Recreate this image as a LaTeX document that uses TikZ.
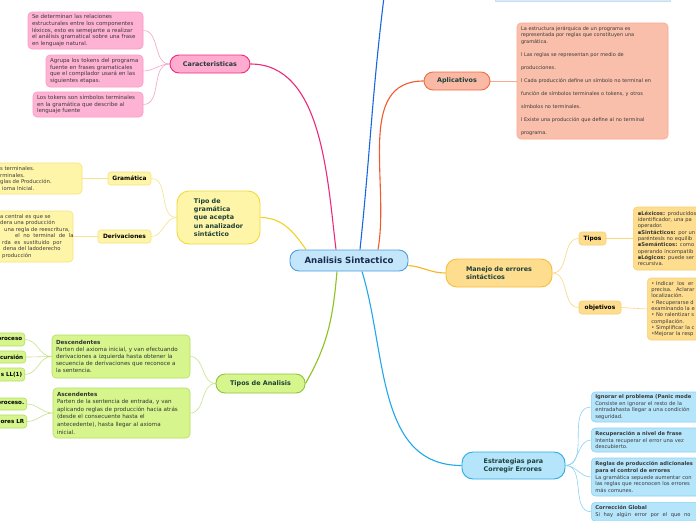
\documentclass[tikz,border=0pt]{standalone}
\usepackage{fontspec}
\setmainfont{DejaVu Sans}
\definecolor{cfill}{HTML}{C3E6FA}
\definecolor{cdraw}{HTML}{4D9FE0}
\definecolor{ctext}{HTML}{1A2A4A}
\definecolor{ttext}{HTML}{1C3F3A}
\definecolor{ntext}{HTML}{3A3A3A}
\definecolor{pkfill}{HTML}{FFACD0}
\definecolor{pkdraw}{HTML}{EE2A7B}
\definecolor{pknfill}{HTML}{FFB3D4}
\definecolor{pkndraw}{HTML}{F79AC4}
\definecolor{pkline}{HTML}{EC2A7B}
\definecolor{pksub}{HTML}{F6A3C8}
\definecolor{yfill}{HTML}{FFF5A8}
\definecolor{ydraw}{HTML}{F3D93A}
\definecolor{yndraw}{HTML}{F6E27E}
\definecolor{yline}{HTML}{F2D41F}
\definecolor{ysub}{HTML}{F7E38A}
\definecolor{gfill}{HTML}{D6F58C}
\definecolor{gdraw}{HTML}{8CC63F}
\definecolor{gndraw}{HTML}{B5DF62}
\definecolor{gline}{HTML}{8DC21F}
\definecolor{gsub}{HTML}{C5E48A}
\definecolor{sfill}{HTML}{F9B9A5}
\definecolor{sdraw}{HTML}{F36B41}
\definecolor{snfill}{HTML}{F9BFAA}
\definecolor{sndraw}{HTML}{F9A98F}
\definecolor{sline}{HTML}{F15A2B}
\definecolor{ofill}{HTML}{FEDD8E}
\definecolor{odraw}{HTML}{F8BD3C}
\definecolor{ondraw}{HTML}{F9D070}
\definecolor{oline}{HTML}{F8B61C}
\definecolor{osub}{HTML}{FBD680}
\definecolor{bfill}{HTML}{B5E5FB}
\definecolor{bdraw}{HTML}{2AABE4}
\definecolor{bndraw}{HTML}{8DD3F3}
\definecolor{bline}{HTML}{20A8E8}
\definecolor{bsub}{HTML}{8DD3F3}
\definecolor{upline}{HTML}{1A66E0}
\definecolor{stripfill}{HTML}{DDE9F9}
\definecolor{stripdraw}{HTML}{C9DCF5}
\pgfdeclarelayer{bg}
\pgfsetlayers{bg,main}
\begin{document}
\begin{tikzpicture}[x=1pt,y=-1pt,
  topicbox/.style={draw, line width=0.9pt, rounded corners=9pt, inner sep=0pt,
    font=\fontsize{6.4}{8.4}\selectfont\bfseries, text=ttext, align=left},
  subbox/.style={draw, line width=0.6pt, rounded corners=3pt, inner ysep=0pt, inner xsep=3pt,
    font=\fontsize{5.9}{7}\selectfont\bfseries, text=black},
  edgebox/.style={subbox, font=\fontsize{5.6}{7}\selectfont\bfseries, inner xsep=2.5pt},
  notebox/.style={draw, line width=0.6pt, rounded corners=4pt, inner xsep=4pt, inner ysep=0pt,
    align=left, text=ntext, font=\fontsize{5.5}{6.7}\selectfont},
  notetext/.style={inner sep=0pt, align=left, anchor=west, text=ntext,
    font=\fontsize{5.3}{6.5}\selectfont},
  mainlink/.style={line width=1.1pt},
  sublink/.style={line width=0.6pt}
]
\useasboundingbox (0,0) rectangle (696,520);

% ---------- center ----------
\node[topicbox, fill=cfill, draw=cdraw, minimum width=118pt, minimum height=21pt,
  font=\fontsize{8.6}{10}\selectfont\bfseries, text=ctext] (c) at (349,260.5) {Analisis Sintactico};

% ---------- top strip (partial node) ----------
\node[draw=stripdraw, fill=stripfill, minimum width=175pt, minimum height=12pt, inner sep=0pt,
  anchor=south west] (topbox) at (495,1.5) {};
\coordinate (topup) at (384,-3);

% ---------- Caracteristicas ----------
\node[topicbox, fill=pkfill, draw=pkdraw, minimum width=80pt, minimum height=18pt] (car) at (210,64) {Caracteristicas};
\node[notebox, fill=pknfill, draw=pkndraw, text width=107pt, minimum height=37pt] (pn1) at (85.5,30.5)
  {Se determinan las relaciones\\estructurales entre los componentes\\léxicos, esto es semejante a realizar\\el análisis gramatical sobre una frase\\en lenguaje natural.};
\node[notebox, fill=pknfill, draw=pkndraw, text width=89pt, minimum height=32pt] (pn2) at (94.5,71)
  {Agrupa los tokens del programa\\fuente en frases gramaticales\\que el compilador usará en las\\siguientes etapas.};
\node[notebox, fill=pknfill, draw=pkndraw, text width=102pt, minimum height=25pt] (pn3) at (88,104.5)
  {Los tokens son símbolos terminales\\en la gramática que describe al\\lenguaje fuente};

% ---------- Tipo de gramatica ----------
\node[topicbox, fill=yfill, draw=ydraw, minimum width=83pt, minimum height=53pt, rounded corners=12pt] (tg) at (218.5,217.5)
  {Tipo de\\gramática\\que acepta\\un analizador\\sintáctico};
\node[subbox, fill=yfill, draw=yndraw, minimum width=43pt, minimum height=13pt] (gram) at (129.5,178.5) {Gramática};
\node[subbox, fill=yfill, draw=yndraw, minimum width=53pt, minimum height=13pt] (deriv) at (124.5,236.5) {Derivaciones};
\node[notebox, fill=yfill, draw=yndraw, minimum width=102pt, minimum height=31pt] (yn1) at (31,178.5) {};
\node[notetext] (yn1t) at (0,178.5) {s terminales.\\rminales.\\glas de Producción.\\\hspace*{2pt}ioma Inicial.};
\node[notebox, fill=yfill, draw=yndraw, minimum width=93pt, minimum height=51pt] (yn2) at (26.5,236.5) {};
\node[notetext] (yn2t) at (0,236.5) {a central es que se\\dera una producción\\\hspace*{4pt}una regla de reescritura,\\\hspace*{15pt}el \ no \ terminal \ de \ la\\\hspace*{2pt}rda \ es \ sustituido \ por\\\hspace*{3pt}dena del ladoderecho\\\hspace*{2pt}producción};

% ---------- Tipos de Analisis ----------
\node[topicbox, fill=gfill, draw=gdraw, minimum width=89pt, minimum height=19pt] (ta) at (260.5,383.5) {Tipos de Analisis};
\node[notebox, fill=gfill, draw=gndraw, text width=130pt, minimum height=43pt, text=black!80,
  font=\fontsize{5.6}{7.1}\selectfont] (desc) at (121,356.5)
  {\textbf{Descendentes}\\Parten del axioma inicial, y van efectuando\\derivaciones a izquierda hasta obtener la\\secuencia de derivaciones que reconoce a\\la sentencia.};
\node[notebox, fill=gfill, draw=gndraw, text width=129pt, minimum height=50pt, text=black!80,
  font=\fontsize{5.6}{7.6}\selectfont] (asc) at (121.5,413)
  {\textbf{Ascendentes}\\Parten de la sentencia de entrada, y van\\aplicando reglas de producción hacia atrás\\(desde el consecuente hasta el\\antecedente), hasta llegar al axioma\\inicial.};
\node[edgebox, fill=gfill, draw=gndraw, anchor=east, minimum height=13pt] (g1) at (25,339.5) {\hspace*{10pt}proceso};
\node[edgebox, fill=gfill, draw=gndraw, anchor=east, minimum height=12pt] (g2) at (26,357) {\hspace*{10pt}cursión};
\node[edgebox, fill=gfill, draw=gndraw, anchor=east, minimum height=13pt] (g3) at (25,374.5) {\hspace*{10pt}s LL(1)};
\node[edgebox, fill=gfill, draw=gndraw, anchor=east, minimum height=12pt] (g4) at (27,404) {\hspace*{10pt}proceso.};
\node[edgebox, fill=gfill, draw=gndraw, anchor=east, minimum height=13pt] (g5) at (27,421.5) {\hspace*{10pt}ores LR};

% ---------- Aplicativos ----------
\node[topicbox, fill=sfill, draw=sdraw, minimum width=66pt, minimum height=18pt] (apl) at (457,81) {Aplicativos};
\node[notebox, fill=snfill, draw=sndraw, text width=143pt, minimum height=116pt,
  font=\fontsize{5}{6.6}\selectfont] (sal) at (592.5,81)
  {La estructura jerárquica de un programa es\\representada por reglas que constituyen una\\gramática.\\[7pt]l Las reglas se representan por medio de\\[6.4pt]producciones.\\[6.4pt]l Cada producción define un símbolo no terminal en\\[6.4pt]función de símbolos terminales o tokens, y otros\\[6.4pt]símbolos no terminales.\\[6.4pt]l Existe una producción que define al no terminal\\[6.4pt]programa.};

% ---------- Manejo de errores ----------
\node[topicbox, fill=ofill, draw=odraw, minimum width=106pt, minimum height=28pt, rounded corners=11pt] (man) at (499,273)
  {Manejo de errores\\sintácticos};
\node[subbox, fill=ofill, draw=ondraw, minimum width=27pt, minimum height=13pt] (tipos) at (592.5,238.5) {Tipos};
\node[subbox, fill=ofill, draw=ondraw, minimum width=42pt, minimum height=13pt] (obj) at (600,307.5) {objetivos};
\node[notebox, fill=ofill, draw=ondraw, anchor=west, text width=110pt, minimum height=63pt, inner xsep=4.5pt,
  font=\fontsize{5.2}{6.3}\selectfont] (tn) at (633,238.5)
  {\textbf{▪Léxicos:} producidos\\identificador, una pa\\operador.\\\textbf{▪Sintácticos:} por un\\paréntesis no equilib\\\textbf{▪Semánticos:} como\\operando incompatib\\\textbf{▪Lógicos:} puede ser\\recursiva.};
\node[notebox, fill=ofill, draw=ondraw, anchor=west, text width=110pt, minimum height=62pt,
  font=\fontsize{5.2}{6.3}\selectfont] (on) at (647,309)
  {• Indicar \ los \ er\\precisa. \ Aclarar\\localización.\\• Recuperarse d\\examinando la e\\• No ralentizar s\\compilación.\\• Simplificar la c\\•Mejorar la resp};

% ---------- Estrategias ----------
\node[topicbox, fill=bfill, draw=bdraw, minimum width=103pt, minimum height=27pt, rounded corners=11pt] (est) at (513.5,465.5)
  {Estrategias para\\Corregir Errores};
\node[notebox, fill=bfill, draw=bndraw, anchor=west, text width=110pt, minimum height=30pt,
  font=\fontsize{5.2}{6.6}\selectfont] (bn1) at (591,407)
  {\textbf{Ignorar el problema (Panic mode}\\Consiste en ignorar el resto de la\\entradahasta llegar a una condición\\seguridad.};
\node[notebox, fill=bfill, draw=bndraw, anchor=west, text width=110pt, minimum height=24pt,
  font=\fontsize{5.2}{6.6}\selectfont] (bn2) at (591,440)
  {\textbf{Recuperación a nivel de frase}\\Intenta recuperar el error una vez\\descubierto.};
\node[notebox, fill=bfill, draw=bndraw, anchor=west, text width=110pt, minimum height=38pt,
  font=\fontsize{5.2}{6.6}\selectfont] (bn3) at (591,477)
  {\textbf{Reglas de producción adicionales}\\\textbf{para el control de errores}\\La gramática sepuede aumentar con\\las reglas que reconocen los errores\\más comunes.};
\node[notebox, fill=bfill, draw=bndraw, anchor=north west, text width=110pt, inner ysep=3.5pt,
  font=\fontsize{5.2}{6.6}\selectfont] (bn4) at (591,502)
  {\textbf{Corrección Global}\\Si \ hay \ algún \ error \ por \ el \ que \ no};

% ---------- connectors ----------
\begin{pgfonlayer}{bg}
\fill[white] (0,0) rectangle (696,520);
\draw[mainlink, pkline] ([xshift=-13pt]c.north) to[out=97,in=0,looseness=0.9] (car.east);
\draw[mainlink, upline] ([xshift=11pt]c.north) to[out=84,in=-97] (topup);
\draw[mainlink, sline] ([xshift=29pt]c.north) to[out=80,in=180] (apl.west);
\draw[mainlink, yline] ([xshift=-43pt]c.north) to[out=125,in=0] (tg.east);
\draw[mainlink, oline] ([yshift=-5pt]c.east) to[out=-5,in=180] (man.west);
\draw[mainlink, gline] ([xshift=-12pt]c.south) to[out=-95,in=60] (ta.east);
\draw[mainlink, bline] ([xshift=13pt]c.south) to[out=-73,in=180] (est.west);

\draw[sublink, pksub] (car.west) to[out=180,in=0] (pn1.east);
\draw[sublink, pksub] (car.west) to[out=180,in=0] (pn2.east);
\draw[sublink, pksub] (car.west) to[out=180,in=0] (pn3.east);

\draw[sublink, ysub] (tg.west) to[out=180,in=0] (gram.east);
\draw[sublink, ysub] (tg.west) to[out=180,in=0] (deriv.east);
\draw[sublink, ysub] (gram.west) -- (yn1.east);
\draw[sublink, ysub] (deriv.west) -- (yn2.east);

\draw[sublink, gsub] (ta.west) to[out=180,in=0] (desc.east);
\draw[sublink, gsub] (ta.west) to[out=180,in=0] (asc.east);
\draw[sublink, gsub] (desc.west) to[out=180,in=0] (g1.east);
\draw[sublink, gsub] (desc.west) to[out=180,in=0] (g2.east);
\draw[sublink, gsub] (desc.west) to[out=180,in=0] (g3.east);
\draw[sublink, gsub] (asc.west) to[out=180,in=0] (g4.east);
\draw[sublink, gsub] (asc.west) to[out=180,in=0] (g5.east);

\draw[sublink, sndraw] (apl.east) -- (sal.west);

\draw[sublink, osub] (man.east) to[out=0,in=180] (tipos.west);
\draw[sublink, osub] (man.east) to[out=0,in=180] (obj.west);
\draw[sublink, osub] (tipos.east) -- (tn.west);
\draw[sublink, osub] (obj.east) -- (on.west);

\draw[sublink, bsub] (est.east) to[out=0,in=180] (bn1.west);
\draw[sublink, bsub] (est.east) to[out=0,in=180] (bn2.west);
\draw[sublink, bsub] (est.east) to[out=0,in=180] (bn3.west);
\draw[sublink, bsub] (est.east) to[out=0,in=180] (bn4.west);
\end{pgfonlayer}
\end{tikzpicture}
\end{document}
